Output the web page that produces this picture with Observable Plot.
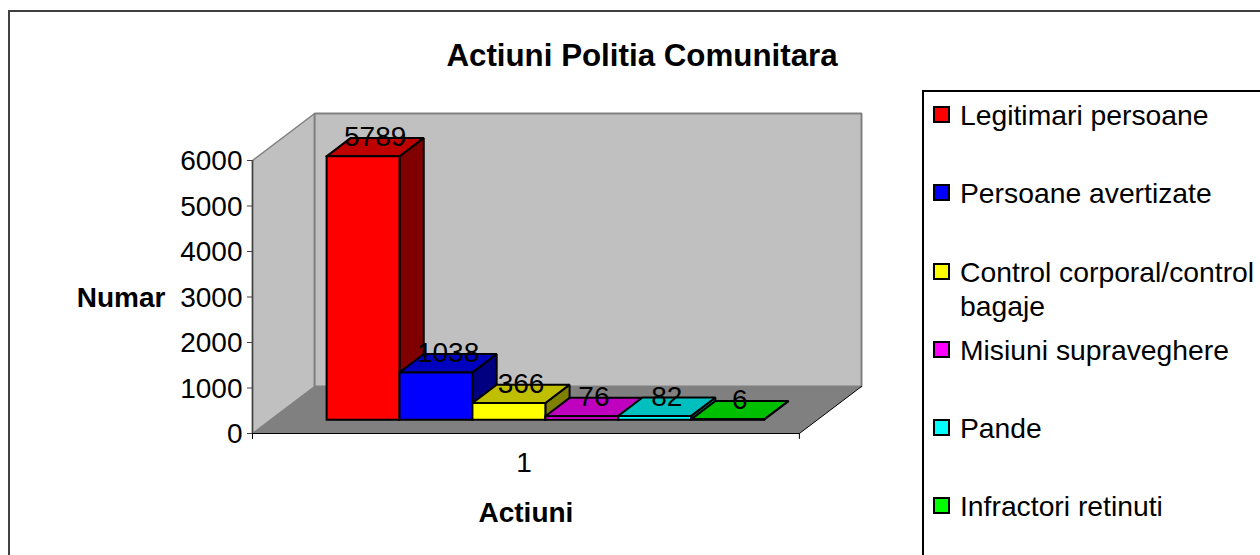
<!DOCTYPE html>
<html>
<head>
<meta charset="utf-8">
<script src="https://cdn.jsdelivr.net/npm/d3@7"></script>
<script src="https://cdn.jsdelivr.net/npm/@observablehq/plot@0.6"></script>
<style>
html,body{margin:0;padding:0;background:#fff;overflow:hidden}
#page{position:relative;width:1260px;height:555px;overflow:hidden;font-family:"Liberation Sans",Arial,sans-serif;color:#000}
#frame{position:absolute;left:8px;top:10px;width:1300px;height:600px;border:2px solid #404040;box-sizing:border-box}
#chart{position:absolute;left:0;top:0}
#title{position:absolute;left:342px;width:600px;top:39px;text-align:center;font-weight:bold;font-size:31.3px;line-height:34px}
#legend{position:absolute;left:922px;top:90px;width:400px;height:500px;border:2px solid #000;box-sizing:border-box;background:#fff}
.item{position:absolute;left:960px;width:299px;font-size:28.3px;line-height:34px}
.swatch{position:absolute;left:933px;width:17px;height:17px;box-sizing:border-box;border:2px solid #000}
</style>
</head>
<body>
<div id="page">
  <div id="frame"></div>
  <div id="legend"></div>
  <div id="title"></div>
  <div id="chart"></div>
</div>
<script>
const titleText = "Actiuni Politia Comunitara";
const yAxisTitle = "Numar";
const xAxisTitle = "Actiuni";
const categoryLabel = "1";
const seriesNames = ["Legitimari persoane","Persoane avertizate","Control corporal/control bagaje","Misiuni supraveghere","Pande","Infractori retinuti"];
const seriesValues = [5789,1038,366,76,82,6];
const frontColors = ["#ff0000","#0000ff","#ffff00","#ff00ff","#00ffff","#00ff00"];
const topColors   = ["#bf0000","#0000bf","#bfbf00","#bf00bf","#00bfbf","#00bf00"];
const sideColors  = ["#800000","#000080","#808000","#800080","#008080","#008000"];
const yTicks = [0,1000,2000,3000,4000,5000,6000];

// Oblique projection: a point (slot position, value, depth 0..1) onto the flat x/y scales
const depthX = 0.852, depthY = 1033;
const px = (i,v,d) => ({x:i+d*depthX, y:v+d*depthY});
const poly = (...p) => [...p.map(a=>px(...a)), px(...p[0])];
const slotMin = -0.765, slotFloor = 6.735;
const barFront = 0.295, barBack = 0.685, barMid = (barFront+barBack)/2;
const yMax = 6000;
const slotMid = (slotMin+slotFloor)/2;

const face = (pts, fill, stroke, strokeWidth) =>
  Plot.line(pts,{x:"x",y:"y",fill,stroke,strokeWidth,strokeLinejoin:"miter",strokeLinecap:"square"});

const marks = [
  face(poly([slotMin,0,0],[slotMin,yMax,0],[slotMin,yMax,1],[slotMin,0,1]),"#c0c0c0","#808080",1.5),
  face(poly([slotMin,0,1],[slotMin,yMax,1],[slotFloor,yMax,1],[slotFloor,0,1]),"#c0c0c0","#808080",2),
  face(poly([slotMin,0,0],[slotMin,0,1],[slotFloor,0,1],[slotFloor,0,0]),"#808080","none",0),
  Plot.line([px(slotMin,0,0),px(slotFloor,0,0),px(slotFloor,0,1)],{x:"x",y:"y",stroke:"#000",strokeWidth:1}),
  Plot.ruleX([slotMin],{y1:0,y2:yMax,stroke:"#404040",strokeWidth:1.5})
];
seriesValues.forEach((v,i)=>{
  const [a,b,f,k] = [i,i+1,barFront,barBack];
  marks.push(
    face(poly([b,0,f],[b,v,f],[b,v,k],[b,0,k]),sideColors[i],"#000",2),
    face(poly([a,v,f],[a,v,k],[b,v,k],[b,v,f]),topColors[i],"#000",2),
    face(poly([a,0,f],[a,v,f],[b,v,f],[b,0,f]),frontColors[i],"#000",2)
  );
});
marks.push(
  Plot.text(seriesValues.map((v,i)=>({...px(i+0.5,v,barMid),t:String(v)})),
    {x:"x",y:"y",text:"t",dy:-10,fontSize:28,fill:"#000",lineAnchor:"middle"}),
  Plot.ruleX([slotMin,slotFloor],{y1:0,y2:-130,stroke:"#000",strokeWidth:1}),
  Plot.axisY({ticks:yTicks,tickSize:5,text:null,label:null,anchor:"left",stroke:"#404040"}),
  Plot.axisY({ticks:yTicks,tickSize:0,tickPadding:10,dy:1,tickFormat:d3.format("d"),fontSize:28,label:null,anchor:"left",color:"#000"}),
  Plot.text([categoryLabel],{x:[slotMid],y:[0],text:d=>d,dx:-2,dy:30,fontSize:28,fill:"#000",lineAnchor:"middle"}),
  Plot.text([xAxisTitle],{x:[slotMid],y:[0],text:d=>d,dy:80,fontSize:28,fontWeight:"bold",fill:"#000",lineAnchor:"middle"}),
  Plot.text([yAxisTitle],{x:[slotMin],y:[3000],text:d=>d,dx:-87,dy:1,textAnchor:"end",fontSize:28,fontWeight:"bold",fill:"#000",lineAnchor:"middle"})
);

const chart = Plot.plot({
  width:1260,height:555,marginTop:113,marginBottom:122,marginLeft:252,marginRight:399,
  style:{background:"transparent",fontFamily:'"Liberation Sans",Arial,sans-serif',overflow:"visible"},
  x:{domain:[slotMin,slotFloor+depthX],axis:null},
  y:{domain:[0,yMax+depthY],axis:null},
  marks
});
document.getElementById("chart").append(chart);
document.getElementById("title").textContent = titleText;

const page = document.getElementById("page");
const rowTops = [98,176,255,333,411,489];
seriesNames.forEach((n,i)=>{
  const s = document.createElement("div"); s.className="swatch";
  s.style.top = (rowTops[i]+8)+"px"; s.style.background = frontColors[i];
  const t = document.createElement("div"); t.className="item";
  t.style.top = rowTops[i]+"px"; t.textContent = n;
  page.append(s,t);
});
</script>
</body>
</html>
